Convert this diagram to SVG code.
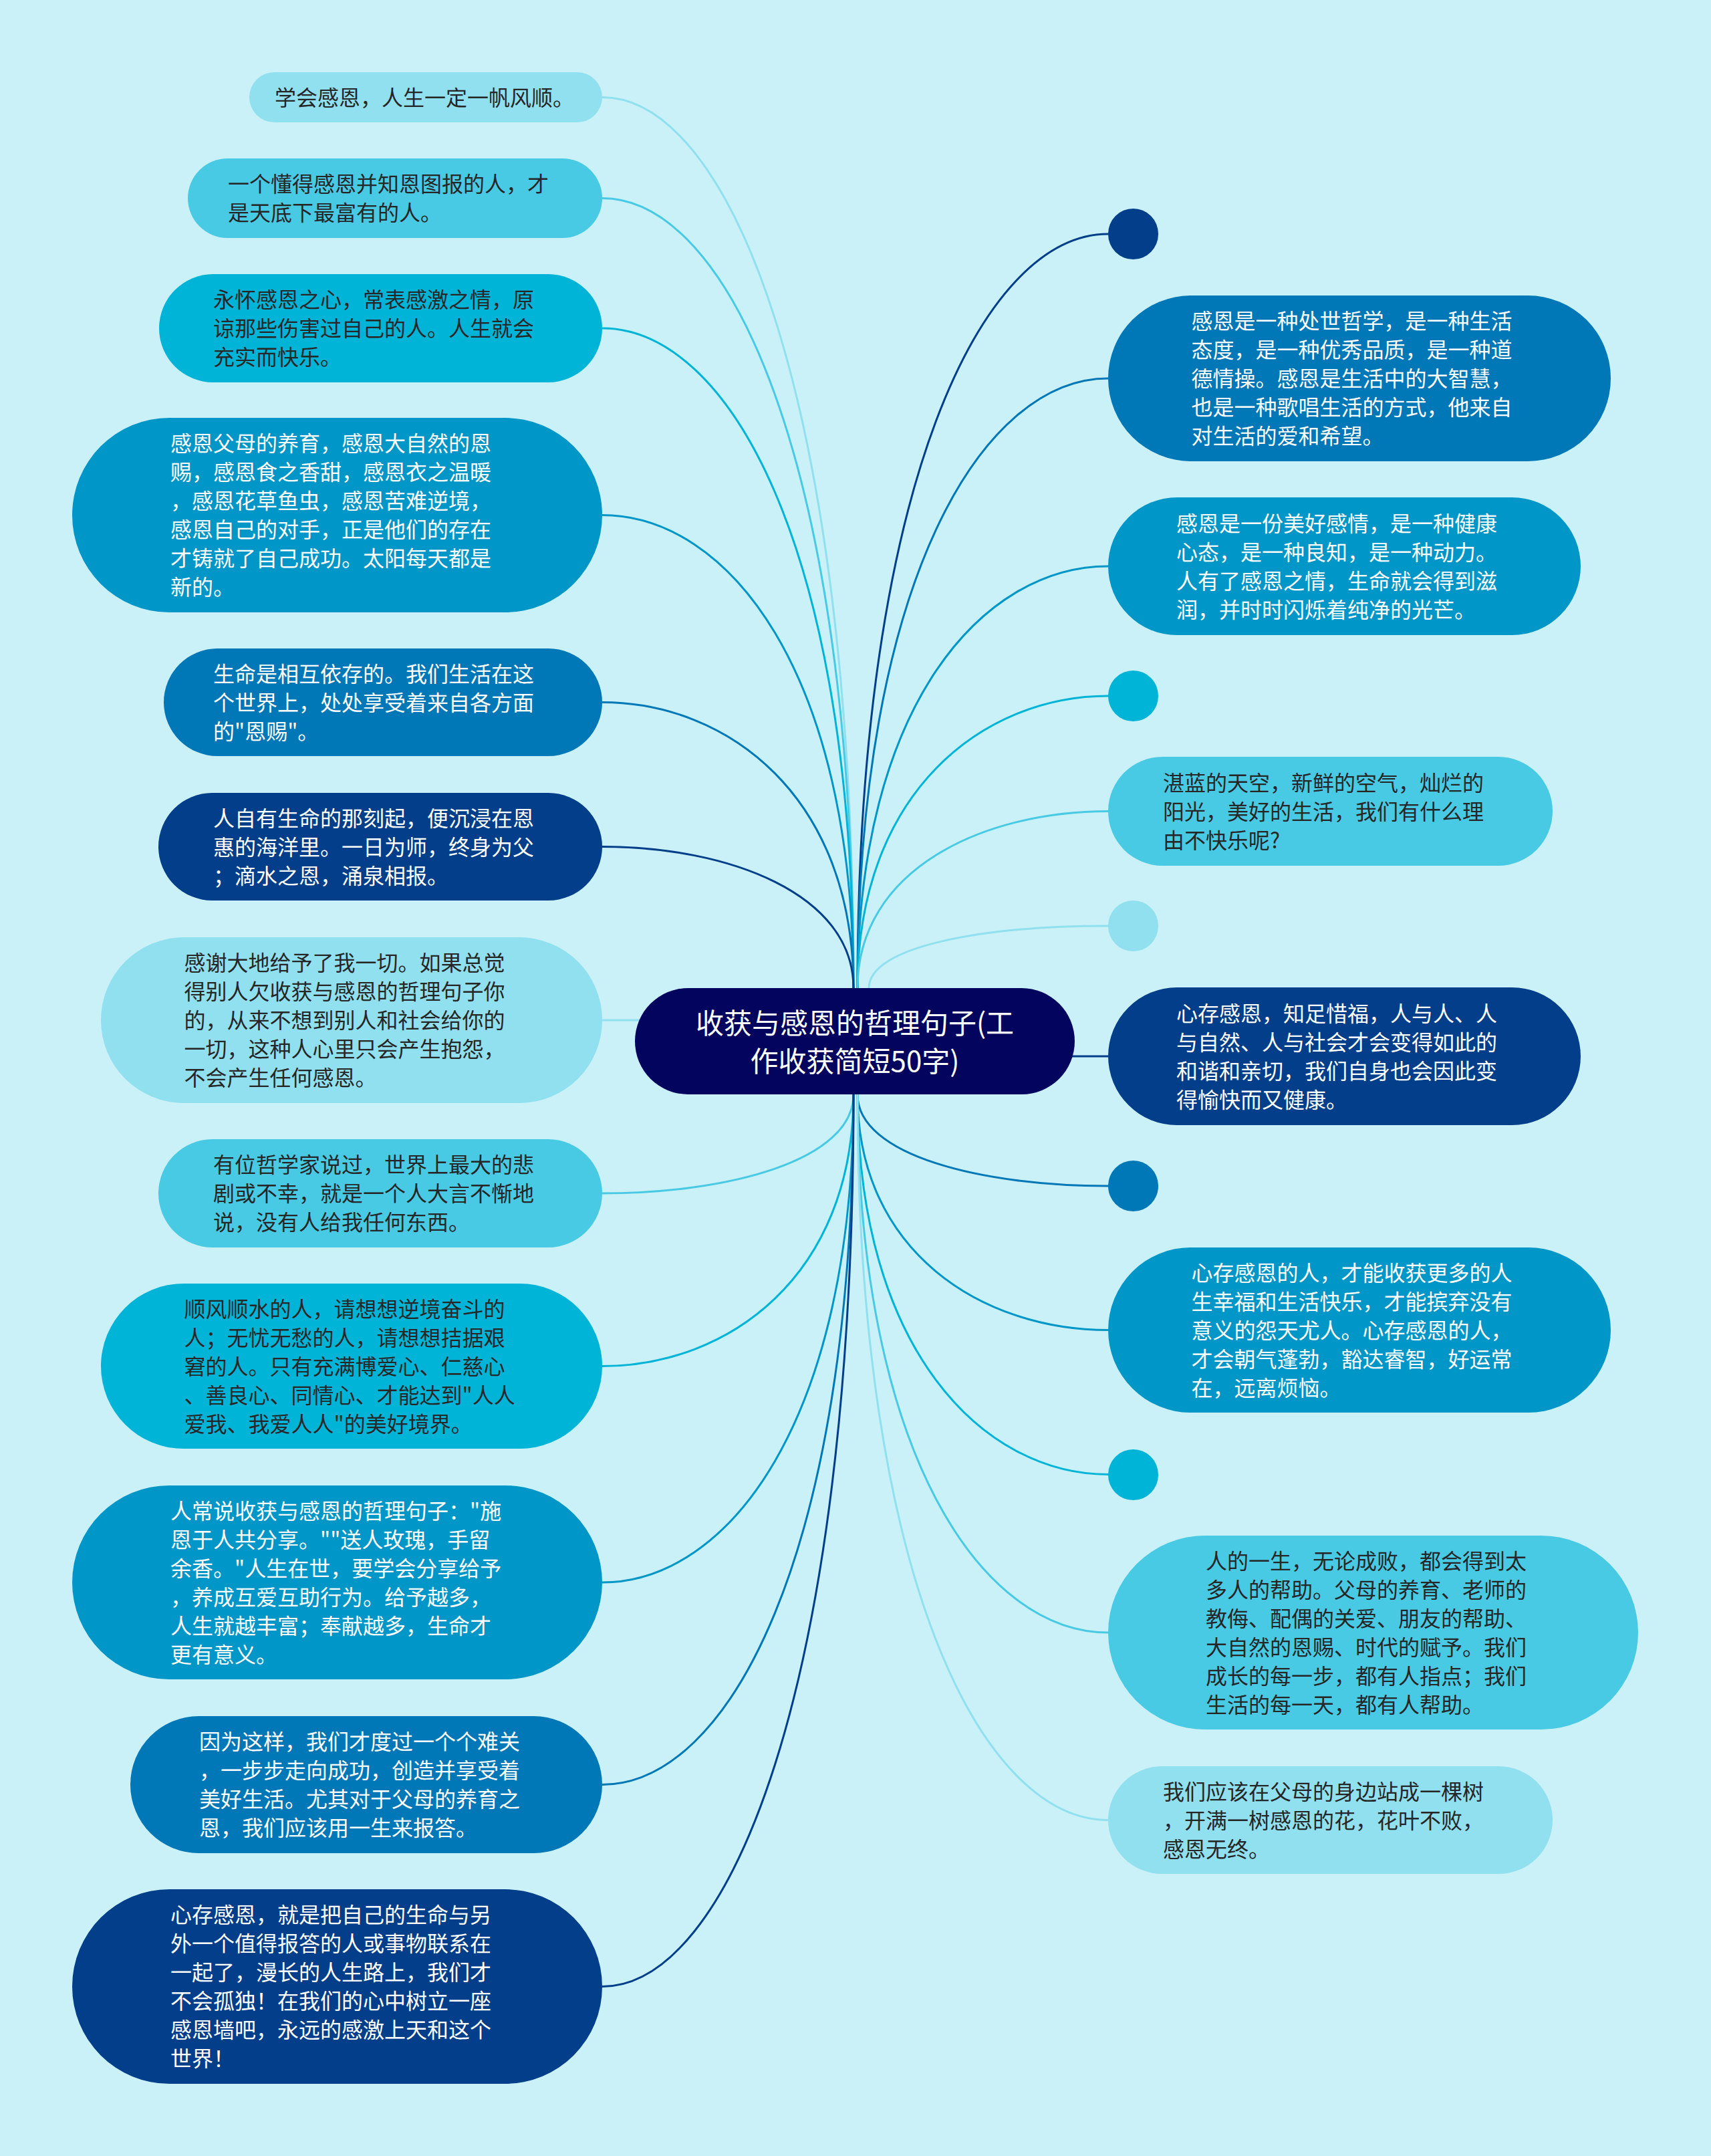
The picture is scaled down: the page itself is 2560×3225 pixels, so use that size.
<svg xmlns="http://www.w3.org/2000/svg" width="2560" height="3225" viewBox="0 0 2560 3225">
<style>
.t{font-family:"Noto Sans CJK SC","Noto Sans",sans-serif;font-size:32px}
.dk{fill:#262626}
.wt{fill:#ffffff}
.ctr{font-family:"Noto Sans CJK SC","Noto Sans",sans-serif;font-size:42px;fill:#ffffff;text-anchor:middle}
.c{fill:none;stroke-width:3}
.c1{stroke:#023e8a}.c2{stroke:#0077b6}.c3{stroke:#0096c7}.c4{stroke:#00b4d8}.c5{stroke:#48cae4}.c6{stroke:#90e0ef}
.f1{fill:#023e8a}.f2{fill:#0077b6}.f3{fill:#0096c7}.f4{fill:#00b4d8}.f5{fill:#48cae4}.f6{fill:#90e0ef}
</style>
<rect x="0" y="0" width="2560" height="3225" fill="#caf0f8"/>
<g id="connectors">
<path class="c c6" d="M901,145.5 C1089,145.5 1277,585.2 1277,1478"/>
<path class="c c5" d="M901,296.5 C1089,296.5 1277,686.4 1277,1478"/>
<path class="c c4" d="M901,491 C1089,491 1277,816.7 1277,1478"/>
<path class="c c3" d="M901,770.5 C1089,770.5 1277,1004 1277,1478"/>
<path class="c c2" d="M901,1050.5 C1089,1050.5 1277,1191.6 1277,1478"/>
<path class="c c1" d="M901,1266.5 C1089,1266.5 1277,1336.3 1277,1478"/>
<path class="c c6" d="M901,1526 L962,1526"/>
<path class="c c5" d="M901,1785 C1089,1785 1277,1736.2 1277,1637"/>
<path class="c c4" d="M901,2043.5 C1089,2043.5 1277,1909.4 1277,1637"/>
<path class="c c3" d="M901,2367 C1089,2367 1277,2126.1 1277,1637"/>
<path class="c c2" d="M901,2669.5 C1089,2669.5 1277,2328.8 1277,1637"/>
<path class="c c1" d="M901,2971.5 C1089,2971.5 1277,2531.1 1277,1637"/>
<path class="c c1" d="M1658,350 C1470.5,350 1283,722.2 1283,1478"/>
<path class="c c2" d="M1658,566 C1470.5,566 1283,867 1283,1478"/>
<path class="c c3" d="M1658,847 C1470.5,847 1283,1055.2 1283,1478"/>
<path class="c c4" d="M1658,1041 C1470.5,1041 1283,1185.2 1283,1478"/>
<path class="c c5" d="M1658,1213.5 C1470.5,1213.5 1283,1300.8 1283,1478"/>
<path class="c c6" d="M1658,1385 C1470.5,1385 1300,1415.7 1300,1478"/>
<path class="c c1" d="M1598,1580 L1658,1580"/>
<path class="c c2" d="M1658,1774 C1470.5,1774 1283,1728.8 1283,1637"/>
<path class="c c3" d="M1658,1989.5 C1470.5,1989.5 1283,1873.2 1283,1637"/>
<path class="c c4" d="M1658,2205.5 C1470.5,2205.5 1283,2017.9 1283,1637"/>
<path class="c c5" d="M1658,2442 C1470.5,2442 1283,2176.3 1283,1637"/>
<path class="c c6" d="M1658,2722.5 C1470.5,2722.5 1283,2364.3 1283,1637"/>
</g>
<g id="center">
<rect x="950" y="1478" width="658" height="159" rx="79.5" fill="#03045e"/>
<text class="ctr"><tspan x="1279" y="1546">收获与感恩的哲理句子(工</tspan><tspan x="1279" y="1603">作收获简短50字)</tspan></text>
</g>
<g id="L1">
<rect class="f6" x="373" y="108" width="528" height="75" rx="37.5"/>
<text class="t dk"><tspan x="411" y="157.5">学会感恩，人生一定一帆风顺。</tspan></text>
</g>
<g id="L2">
<rect class="f5" x="281" y="237" width="620" height="119" rx="59.5"/>
<text class="t dk"><tspan x="341" y="287">一个懂得感恩并知恩图报的人，才</tspan><tspan x="341" y="330">是天底下最富有的人。</tspan></text>
</g>
<g id="L3">
<rect class="f4" x="238" y="410" width="663" height="162" rx="81"/>
<text class="t dk"><tspan x="319" y="460">永怀感恩之心，常表感激之情，原</tspan><tspan x="319" y="503">谅那些伤害过自己的人。人生就会</tspan><tspan x="319" y="546">充实而快乐。</tspan></text>
</g>
<g id="L4">
<rect class="f3" x="108" y="625" width="793" height="291" rx="145.5"/>
<text class="t wt"><tspan x="255" y="675">感恩父母的养育，感恩大自然的恩</tspan><tspan x="255" y="718">赐，感恩食之香甜，感恩衣之温暖</tspan><tspan x="255" y="761">，感恩花草鱼虫，感恩苦难逆境，</tspan><tspan x="255" y="804">感恩自己的对手，正是他们的存在</tspan><tspan x="255" y="847">才铸就了自己成功。太阳每天都是</tspan><tspan x="255" y="890">新的。</tspan></text>
</g>
<g id="L5">
<rect class="f2" x="245" y="970" width="656" height="161" rx="80.5"/>
<text class="t wt"><tspan x="319" y="1019.5">生命是相互依存的。我们生活在这</tspan><tspan x="319" y="1062.5">个世界上，处处享受着来自各方面</tspan><tspan x="319" y="1105.5">的"恩赐"。</tspan></text>
</g>
<g id="L6">
<rect class="f1" x="237" y="1186" width="664" height="161" rx="80.5"/>
<text class="t wt"><tspan x="319" y="1235.5">人自有生命的那刻起，便沉浸在恩</tspan><tspan x="319" y="1278.5">惠的海洋里。一日为师，终身为父</tspan><tspan x="319" y="1321.5">；滴水之恩，涌泉相报。</tspan></text>
</g>
<g id="L7">
<rect class="f6" x="151" y="1402" width="750" height="248" rx="124"/>
<text class="t dk"><tspan x="275.5" y="1452">感谢大地给予了我一切。如果总觉</tspan><tspan x="275.5" y="1495">得别人欠收获与感恩的哲理句子你</tspan><tspan x="275.5" y="1538">的，从来不想到别人和社会给你的</tspan><tspan x="275.5" y="1581">一切，这种人心里只会产生抱怨，</tspan><tspan x="275.5" y="1624">不会产生任何感恩。</tspan></text>
</g>
<g id="L8">
<rect class="f5" x="237" y="1704" width="664" height="162" rx="81"/>
<text class="t dk"><tspan x="319" y="1754">有位哲学家说过，世界上最大的悲</tspan><tspan x="319" y="1797">剧或不幸，就是一个人大言不惭地</tspan><tspan x="319" y="1840">说，没有人给我任何东西。</tspan></text>
</g>
<g id="L9">
<rect class="f4" x="151" y="1920" width="750" height="247" rx="123.5"/>
<text class="t dk"><tspan x="275.5" y="1969.5">顺风顺水的人，请想想逆境奋斗的</tspan><tspan x="275.5" y="2012.5">人；无忧无愁的人，请想想拮据艰</tspan><tspan x="275.5" y="2055.5">窘的人。只有充满博爱心、仁慈心</tspan><tspan x="275.5" y="2098.5">、善良心、同情心、才能达到"人人</tspan><tspan x="275.5" y="2141.5">爱我、我爱人人"的美好境界。</tspan></text>
</g>
<g id="L10">
<rect class="f3" x="108" y="2222" width="793" height="290" rx="145"/>
<text class="t wt"><tspan x="255" y="2271.5">人常说收获与感恩的哲理句子："施</tspan><tspan x="255" y="2314.5">恩于人共分享。""送人玫瑰，手留</tspan><tspan x="255" y="2357.5">余香。"人生在世，要学会分享给予</tspan><tspan x="255" y="2400.5">，养成互爱互助行为。给予越多，</tspan><tspan x="255" y="2443.5">人生就越丰富；奉献越多，生命才</tspan><tspan x="255" y="2486.5">更有意义。</tspan></text>
</g>
<g id="L11">
<rect class="f2" x="195" y="2567" width="706" height="205" rx="102.5"/>
<text class="t wt"><tspan x="298" y="2617">因为这样，我们才度过一个个难关</tspan><tspan x="298" y="2660">，一步步走向成功，创造并享受着</tspan><tspan x="298" y="2703">美好生活。尤其对于父母的养育之</tspan><tspan x="298" y="2746">恩，我们应该用一生来报答。</tspan></text>
</g>
<g id="L12">
<rect class="f1" x="108" y="2826" width="793" height="291" rx="145.5"/>
<text class="t wt"><tspan x="255" y="2876">心存感恩，就是把自己的生命与另</tspan><tspan x="255" y="2919">外一个值得报答的人或事物联系在</tspan><tspan x="255" y="2962">一起了，漫长的人生路上，我们才</tspan><tspan x="255" y="3005">不会孤独！在我们的心中树立一座</tspan><tspan x="255" y="3048">感恩墙吧，永远的感激上天和这个</tspan><tspan x="255" y="3091">世界！</tspan></text>
</g>
<g id="C0"><rect class="f1" x="1658" y="312" width="75" height="76" rx="37.5"/></g>
<g id="R1">
<rect class="f2" x="1658" y="442" width="752" height="248" rx="124"/>
<text class="t wt"><tspan x="1782.5" y="492">感恩是一种处世哲学，是一种生活</tspan><tspan x="1782.5" y="535">态度，是一种优秀品质，是一种道</tspan><tspan x="1782.5" y="578">德情操。感恩是生活中的大智慧，</tspan><tspan x="1782.5" y="621">也是一种歌唱生活的方式，他来自</tspan><tspan x="1782.5" y="664">对生活的爱和希望。</tspan></text>
</g>
<g id="R2">
<rect class="f3" x="1658" y="744" width="707" height="206" rx="103"/>
<text class="t wt"><tspan x="1760" y="794.5">感恩是一份美好感情，是一种健康</tspan><tspan x="1760" y="837.5">心态，是一种良知，是一种动力。</tspan><tspan x="1760" y="880.5">人有了感恩之情，生命就会得到滋</tspan><tspan x="1760" y="923.5">润，并时时闪烁着纯净的光芒。</tspan></text>
</g>
<g id="C2"><rect class="f4" x="1658" y="1003" width="75" height="76" rx="37.5"/></g>
<g id="R3">
<rect class="f5" x="1658" y="1132" width="665" height="163" rx="81.5"/>
<text class="t dk"><tspan x="1740" y="1182.5">湛蓝的天空，新鲜的空气，灿烂的</tspan><tspan x="1740" y="1225.5">阳光，美好的生活，我们有什么理</tspan><tspan x="1740" y="1268.5">由不快乐呢?</tspan></text>
</g>
<g id="C3"><rect class="f6" x="1658" y="1347" width="75" height="76" rx="37.5"/></g>
<g id="R4">
<rect class="f1" x="1658" y="1477" width="707" height="206" rx="103"/>
<text class="t wt"><tspan x="1760" y="1527.5">心存感恩，知足惜福，人与人、人</tspan><tspan x="1760" y="1570.5">与自然、人与社会才会变得如此的</tspan><tspan x="1760" y="1613.5">和谐和亲切，我们自身也会因此变</tspan><tspan x="1760" y="1656.5">得愉快而又健康。</tspan></text>
</g>
<g id="C4"><rect class="f2" x="1658" y="1736" width="75" height="76" rx="37.5"/></g>
<g id="R5">
<rect class="f3" x="1658" y="1866" width="752" height="247" rx="123.5"/>
<text class="t wt"><tspan x="1782.5" y="1915.5">心存感恩的人，才能收获更多的人</tspan><tspan x="1782.5" y="1958.5">生幸福和生活快乐，才能摈弃没有</tspan><tspan x="1782.5" y="2001.5">意义的怨天尤人。心存感恩的人，</tspan><tspan x="1782.5" y="2044.5">才会朝气蓬勃，豁达睿智，好运常</tspan><tspan x="1782.5" y="2087.5">在，远离烦恼。</tspan></text>
</g>
<g id="C5"><rect class="f4" x="1658" y="2168" width="75" height="76" rx="37.5"/></g>
<g id="R6">
<rect class="f5" x="1658" y="2297" width="793" height="290" rx="145"/>
<text class="t dk"><tspan x="1804" y="2346.5">人的一生，无论成败，都会得到太</tspan><tspan x="1804" y="2389.5">多人的帮助。父母的养育、老师的</tspan><tspan x="1804" y="2432.5">教侮、配偶的关爱、朋友的帮助、</tspan><tspan x="1804" y="2475.5">大自然的恩赐、时代的赋予。我们</tspan><tspan x="1804" y="2518.5">成长的每一步，都有人指点；我们</tspan><tspan x="1804" y="2561.5">生活的每一天，都有人帮助。</tspan></text>
</g>
<g id="R7">
<rect class="f6" x="1658" y="2642" width="665" height="161" rx="80.5"/>
<text class="t dk"><tspan x="1740" y="2691.5">我们应该在父母的身边站成一棵树</tspan><tspan x="1740" y="2734.5">，开满一树感恩的花，花叶不败，</tspan><tspan x="1740" y="2777.5">感恩无终。</tspan></text>
</g>
</svg>
